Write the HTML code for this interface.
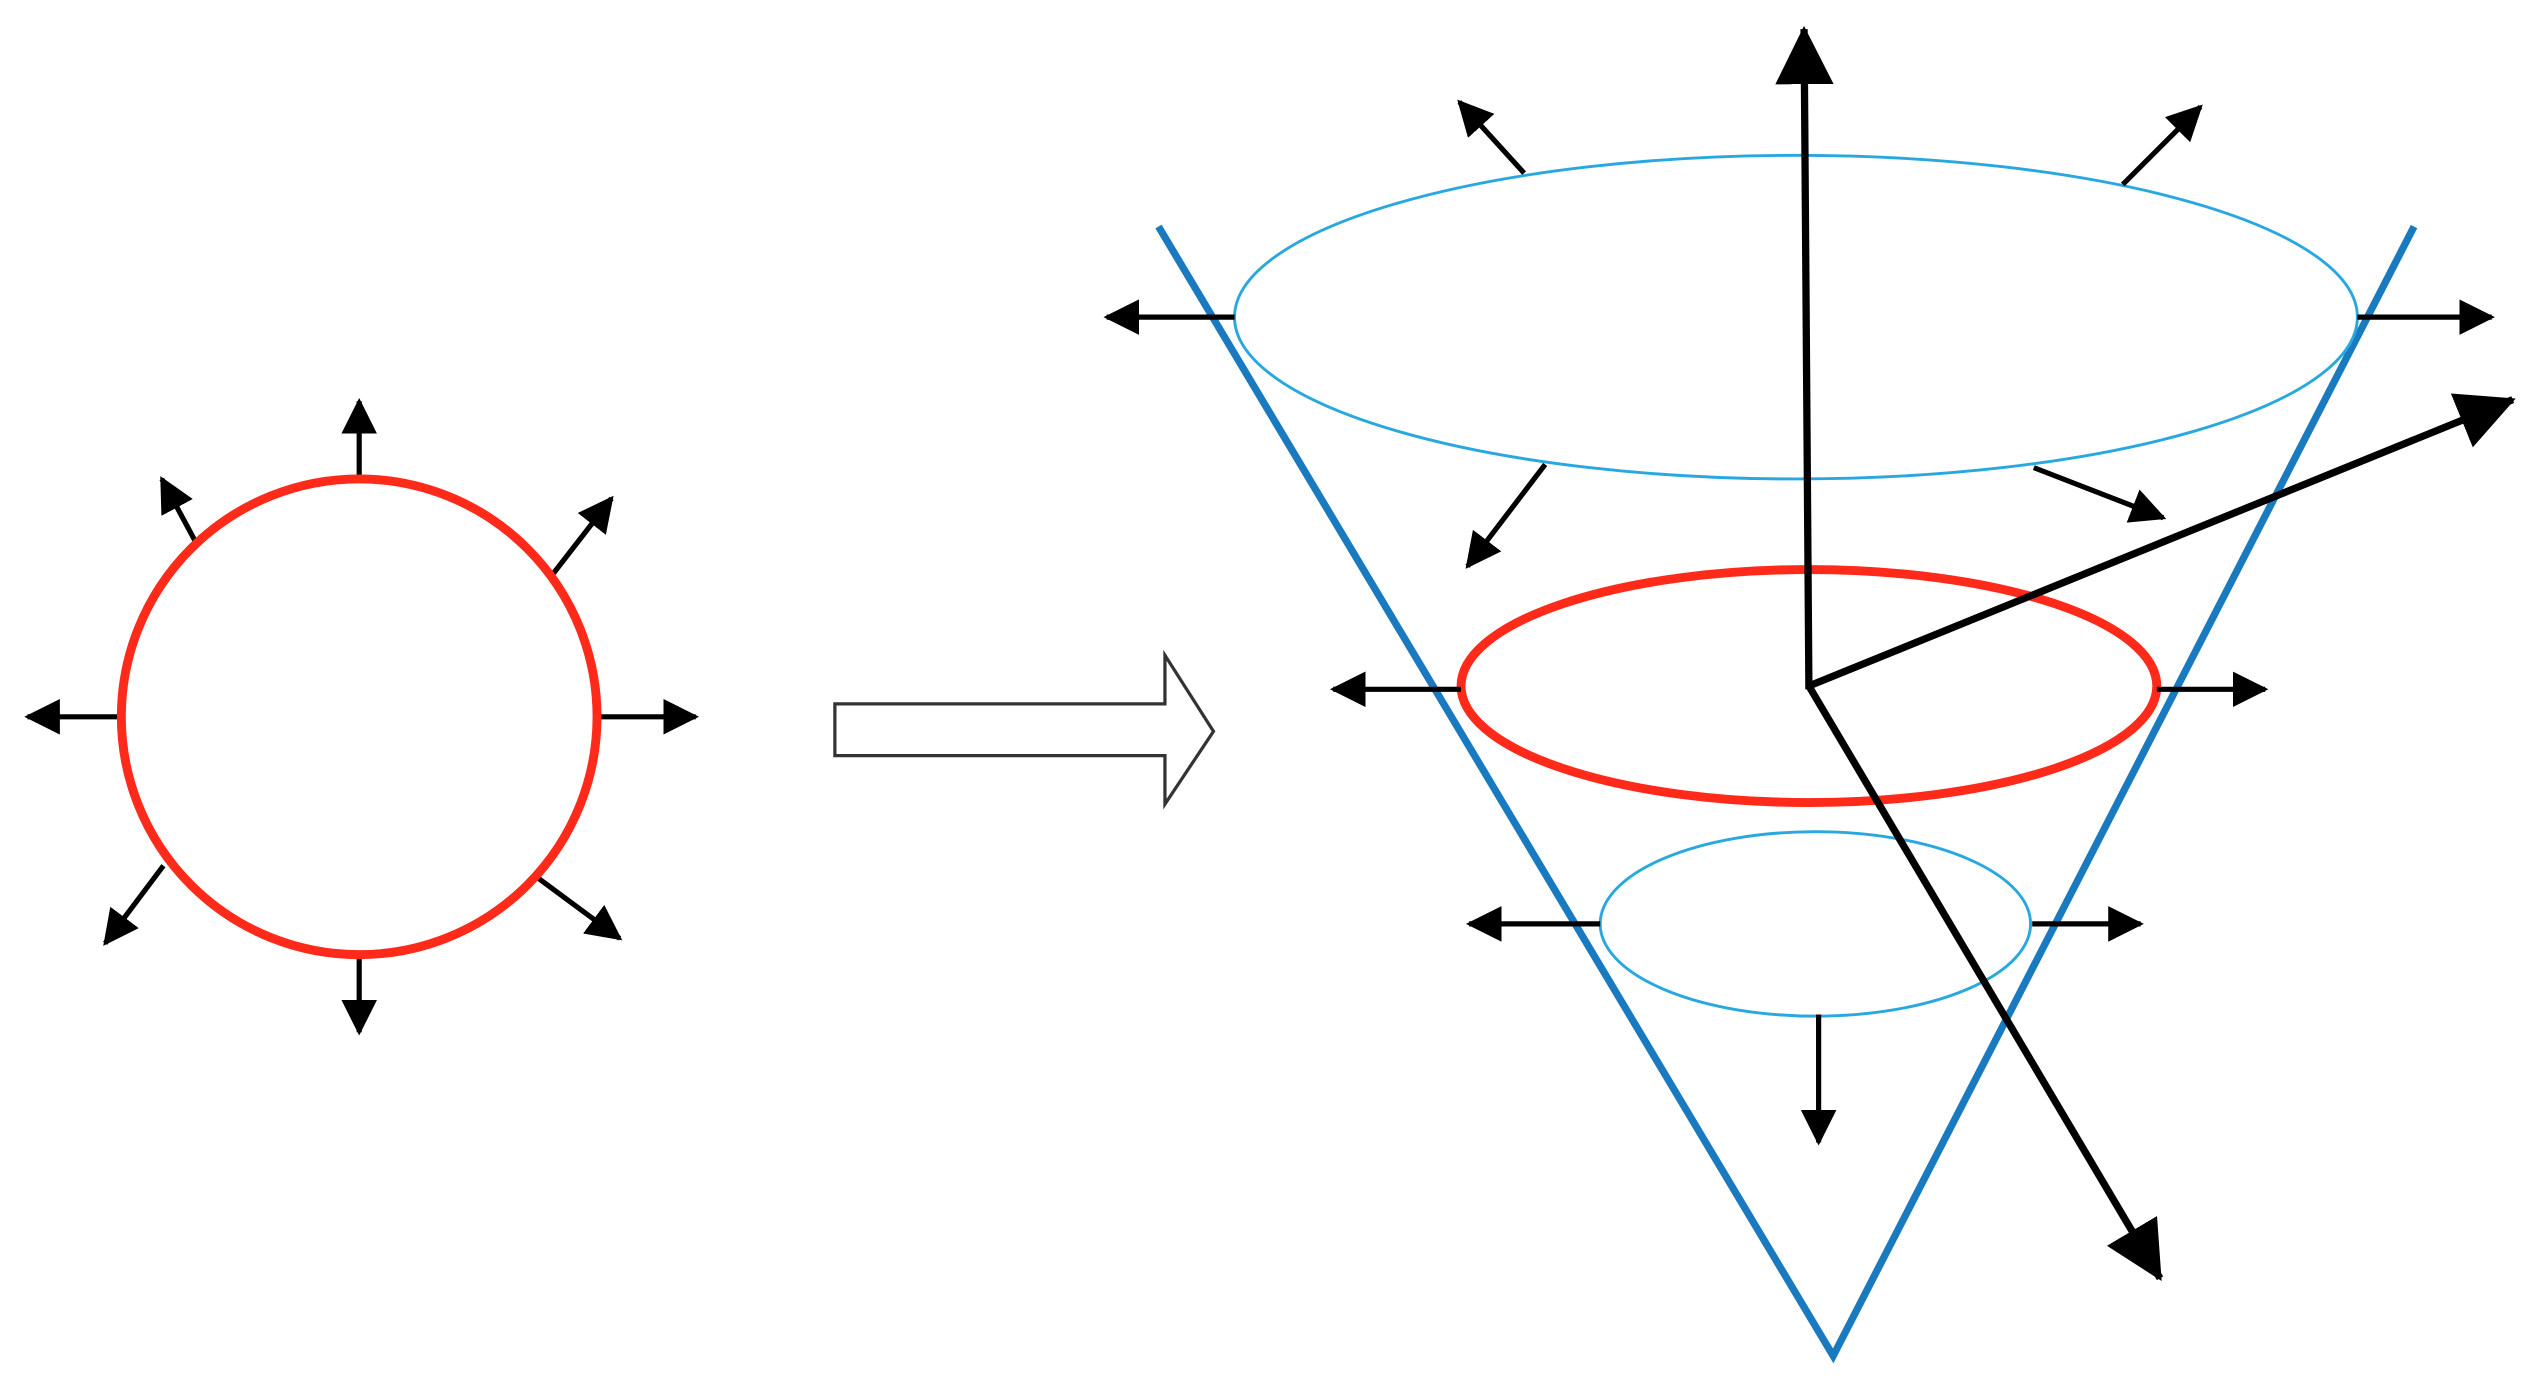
<!DOCTYPE html>
<html><head><meta charset="utf-8"><style>html,body{margin:0;padding:0;background:#fff}svg{display:block}</style></head>
<body>
<svg width="2537" height="1381" viewBox="0 0 1568 853.5" xmlns="http://www.w3.org/2000/svg">
<defs>
<marker id="a" markerUnits="userSpaceOnUse" markerWidth="24" markerHeight="24" refX="20" refY="11" orient="auto"><path d="M0,0 L22,11 L0,22 Z" fill="#000"/></marker>
<marker id="b" markerUnits="userSpaceOnUse" markerWidth="40" markerHeight="40" refX="34" refY="18" orient="auto"><path d="M0,0 L36,18 L0,36 Z" fill="#000"/></marker>
</defs>
<g stroke="#000" stroke-width="3.2" fill="none" marker-end="url(#a)">
<line x1="222" y1="297" x2="222" y2="248"/>
<line x1="122" y1="337" x2="100" y2="296"/>
<line x1="340" y1="357" x2="378" y2="308"/>
<line x1="77" y1="443" x2="17" y2="443"/>
<line x1="368" y1="443" x2="430" y2="443"/>
<line x1="101" y1="535" x2="65" y2="583"/>
<line x1="333" y1="543" x2="383" y2="580"/>
<line x1="222" y1="590" x2="222" y2="638"/>
</g>
<circle cx="222" cy="443" r="147" fill="none" stroke="#ff2a1a" stroke-width="5.5"/>
<path d="M516,435 L720,435 L720,405 L750,452 L720,497 L720,467 L516,467 Z" fill="#fff" stroke="#333" stroke-width="2"/>
<g stroke="#1a7abf" stroke-width="4.5" fill="none">
<polyline points="716,140 1133,838 1492,140"/>
</g>
<ellipse cx="1110" cy="196" rx="347" ry="100" fill="none" stroke="#29a8e0" stroke-width="1.8"/>
<ellipse cx="1122" cy="571" rx="133" ry="57" fill="none" stroke="#29a8e0" stroke-width="1.8"/>
<ellipse cx="1118" cy="424" rx="215" ry="72" fill="none" stroke="#ff2a1a" stroke-width="5.5"/>
<g stroke="#000" stroke-width="3.2" fill="none" marker-end="url(#a)">
<line x1="763" y1="196" x2="684" y2="196"/>
<line x1="1457" y1="196" x2="1540" y2="196"/>
<line x1="942" y1="107" x2="902" y2="63"/>
<line x1="1312" y1="114" x2="1360" y2="66"/>
<line x1="955" y1="287" x2="907" y2="350"/>
<line x1="1257" y1="289" x2="1337" y2="320"/>
<line x1="903" y1="426" x2="824" y2="426"/>
<line x1="1333" y1="426" x2="1400" y2="426"/>
<line x1="989" y1="571" x2="908" y2="571"/>
<line x1="1256" y1="571" x2="1323" y2="571"/>
<line x1="1124" y1="627" x2="1124" y2="706"/>
</g>
<g stroke="#000" stroke-width="4.5" fill="none" marker-end="url(#b)">
<line x1="1118" y1="426" x2="1115" y2="18"/>
<line x1="1118" y1="424" x2="1553" y2="247"/>
<line x1="1118" y1="424" x2="1335" y2="790"/>
</g>
</svg>
</body></html>
